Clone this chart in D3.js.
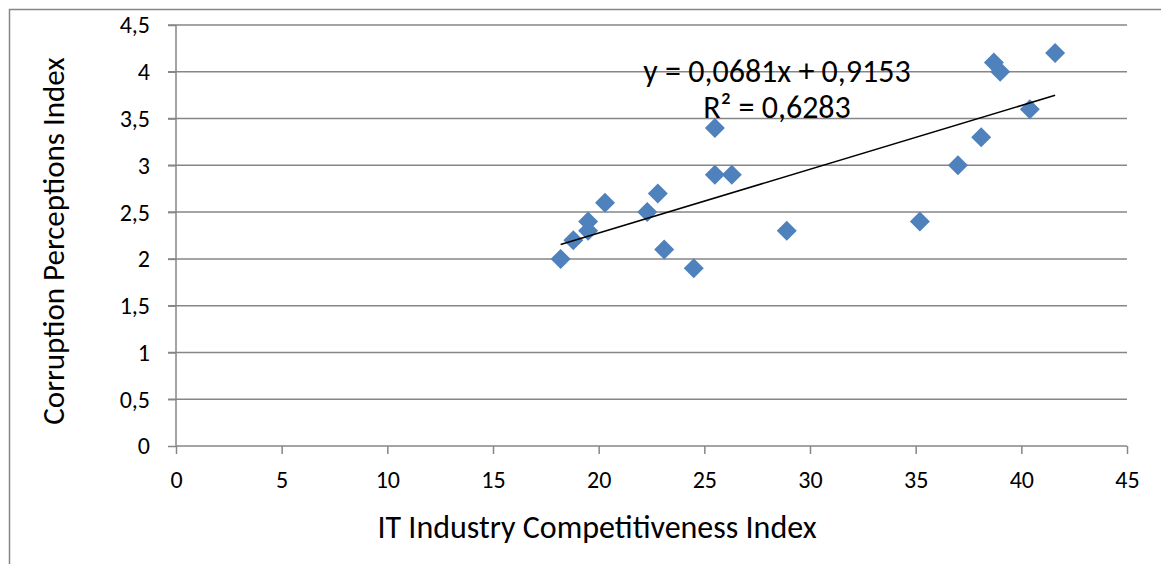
<!DOCTYPE html>
<html><head><meta charset="utf-8">
<script src="https://cdn.jsdelivr.net/npm/d3@7"></script>
<style>html,body{margin:0;padding:0;background:#fff;overflow:hidden}</style>
</head><body>
<svg id="c" width="1161" height="564"></svg>
<script>
const itIndex  = [18.2, 18.8, 19.5, 19.5, 20.3, 22.3, 22.8, 23.1, 24.5, 25.5, 25.5, 26.3, 28.9, 35.2, 37.0, 38.1, 38.7, 39.0, 40.4, 41.6];
const cpiIndex = [2.0, 2.2, 2.3, 2.4, 2.6, 2.5, 2.7, 2.1, 1.9, 3.4, 2.9, 2.9, 2.3, 2.4, 3.0, 3.3, 4.1, 4.0, 3.6, 4.2];
const xTicks = [0, 5, 10, 15, 20, 25, 30, 35, 40, 45];
const yTicks = [0, 0.5, 1, 1.5, 2, 2.5, 3, 3.5, 4, 4.5];
const slope = 0.0681, intercept = 0.9153;
const eqText = "y = 0,0681x + 0,9153";
const r2Text = "R² = 0,6283";
const xTitle = "IT Industry Competitiveness Index";
const yTitle = "Corruption Perceptions Index";

const svg = d3.select("#c");
const font = "Calibri, Carlito, 'Open Sans', sans-serif";
const L = 176, R = 1127, T = 25, B = 446;
const x = d3.scaleLinear().domain([0, 45]).range([L, R]);
const y = d3.scaleLinear().domain([0, 4.5]).range([B, T]);
const grey = "#868686";

svg.append("path").attr("d", "M9.5,570 V9.5 H1170").attr("fill", "none").attr("stroke", grey).attr("stroke-width", 1.5);

// gridlines
svg.append("g").selectAll("line").data(yTicks.filter(d => d > 0)).join("line")
  .attr("x1", L - 8).attr("x2", R).attr("y1", d => y(d)).attr("y2", d => y(d))
  .attr("stroke", grey).attr("stroke-width", 1.5);

// y axis
const ya = svg.append("g").attr("transform", `translate(${L},0)`)
  .call(d3.axisLeft(y).tickValues(yTicks).tickSize(8).tickFormat(d => String(d).replace(".", ",")));
// x axis
const xa = svg.append("g").attr("transform", `translate(0,${B})`)
  .call(d3.axisBottom(x).tickValues(xTicks).tickSize(8).tickFormat(d => d));
[ya, xa].forEach(a => {
  a.select(".domain").attr("stroke", grey).attr("stroke-width", 1.5);
  a.selectAll(".tick line").attr("stroke", grey).attr("stroke-width", 1.5);
  a.selectAll("text").attr("font-family", font).attr("font-size", 24).attr("fill", "#000");
});
ya.selectAll(".tick text").attr("x", -26).attr("dy", "0.33em");
xa.selectAll(".tick text").attr("y", 42).attr("dy", 0);
ya.select(".domain").attr("d", `M0,${T}V${B}`);
xa.select(".domain").attr("d", `M${L},0H${R}`);

// points
const s = 10;
svg.append("g").selectAll("path").data(itIndex.map((v, i) => [v, cpiIndex[i]])).join("path")
  .attr("transform", d => `translate(${x(d[0])},${y(d[1])})`)
  .attr("d", `M0,${-s}L${s},0L0,${s}L${-s},0Z`)
  .attr("fill", "#4F81BD");

// trendline
const x0 = d3.min(itIndex), x1 = d3.max(itIndex);
svg.append("line")
  .attr("x1", x(x0)).attr("y1", y(slope * x0 + intercept))
  .attr("x2", x(x1)).attr("y2", y(slope * x1 + intercept))
  .attr("stroke", "#000").attr("stroke-width", 1.5);

svg.append("text").attr("x", 777).attr("y", 82).attr("text-anchor", "middle")
  .attr("font-family", font).attr("font-size", 32).text(eqText);
svg.append("text").attr("x", 777).attr("y", 118).attr("text-anchor", "middle")
  .attr("font-family", font).attr("font-size", 32).text(r2Text);

// axis titles
svg.append("text").attr("x", 597).attr("y", 538).attr("text-anchor", "middle")
  .attr("font-family", font).attr("font-size", 32).text(xTitle);
svg.append("text").attr("transform", "translate(64,241) rotate(-90)").attr("text-anchor", "middle")
  .attr("font-family", font).attr("font-size", 31).text(yTitle);
</script>
</body></html>
